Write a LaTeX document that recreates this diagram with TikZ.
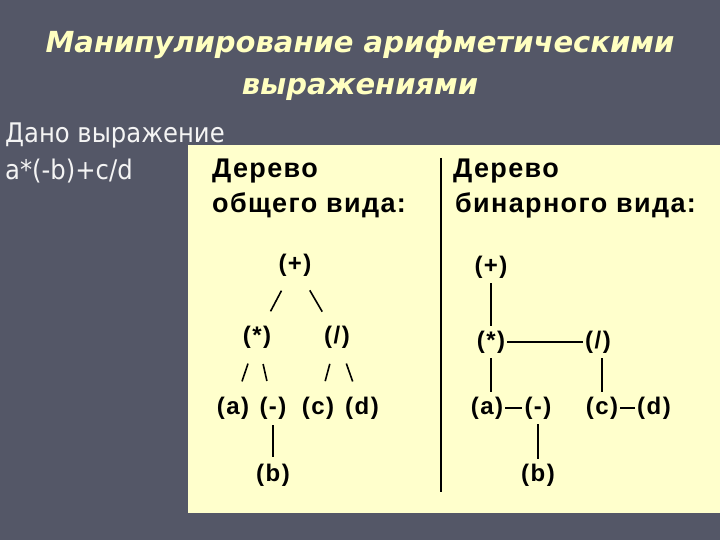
\documentclass[tikz,border=0pt]{standalone}
\usepackage{fontspec}
\setmainfont{Liberation Sans}
\newfontfamily\titlefont{DejaVu Sans}
\newfontfamily\givenfont{DejaVu Sans Condensed}
\newfontfamily\panelfont{Liberation Sans}[LetterSpace=5]
\newfontfamily\treefont{Liberation Sans}[LetterSpace=6]
\definecolor{slidebg}{HTML}{545767}
\definecolor{titleyellow}{HTML}{FFFFC0}
\definecolor{panelyellow}{HTML}{FFFFCC}
\definecolor{giventext}{HTML}{F4F4F4}

\begin{document}
\begin{tikzpicture}[x=1pt, y=-1pt,
	tnode/.style={font=\treefont\fontsize{24}{26}\selectfont\bfseries, inner sep=1pt},
	head/.style={anchor=base west, inner sep=0pt, font=\panelfont\fontsize{27}{29}\selectfont\bfseries},
	slash/.style={line width=1.6pt, shorten <=15pt, shorten >=15pt},
	link/.style={line width=1.6pt, shorten <=4pt, shorten >=4pt}]
	% Fond
	\useasboundingbox (0, 0) rectangle (720, 540);
	\fill[slidebg] (0, 0) rectangle (720, 540);
	% Titre
	\node[anchor=base, text=titleyellow, font=\titlefont\fontsize{29}{32}\selectfont\bfseries\itshape] (title1) at (360, 53) {Манипулирование арифметическими};
	\node[anchor=base, text=titleyellow, font=\titlefont\fontsize{29}{32}\selectfont\bfseries\itshape] (title2) at (360, 95) {выражениями};
	% Expression
	\node[anchor=base west, text=giventext, inner sep=0pt, font=\givenfont\fontsize{27}{29}\selectfont] (given1) at (5, 143) {Дано выражение};
	\node[anchor=base west, text=giventext, inner sep=0pt, font=\givenfont\fontsize{27}{29}\selectfont] (given2) at (5, 180) {a*(-b)+c/d};
	% Panneau
	\fill[panelyellow] (188, 145) rectangle (720, 513);
	\draw[line width=1.5pt] (441, 158) -- (441, 492);
	\node[head] (head1) at (212, 178) {Дерево};
	\node[head] (head2) at (212, 213) {общего вида:};
	\node[head] (head3) at (453, 178) {Дерево};
	\node[head] (head4) at (455, 213) {бинарного вида:};
	% Arbre general
	\node[tnode] (gplus) at (295, 265) {(+)};
	\node[tnode] (gmul) at (257, 337) {(*)};
	\node[tnode] (gdiv) at (337, 337) {(/)};
	\node[tnode] (ga) at (233, 408) {(a)};
	\node[tnode] (gneg) at (273, 408) {(-)};
	\node[tnode] (gc) at (318, 408) {(c)};
	\node[tnode] (gd) at (362, 408) {(d)};
	\node[tnode] (gb) at (273, 475) {(b)};
	\draw[slash] (gplus) -- (gmul);
	\draw[slash] (gplus) -- (gdiv);
	\draw[slash] (gmul) -- (ga);
	\draw[slash] (gmul) -- (gneg);
	\draw[slash] (gdiv) -- (gc);
	\draw[slash] (gdiv) -- (gd);
	\draw[link, shorten <=5pt, shorten >=6pt] (gneg) -- (gb);
	% Arbre binaire
	\node[tnode] (bplus) at (491, 267) {(+)};
	\node[tnode] (bmul) at (491, 342) {(*)};
	\node[tnode] (bdiv) at (598, 342) {(/)};
	\node[tnode] (ba) at (487, 408) {(a)};
	\node[tnode] (bneg) at (538, 408) {(-)};
	\node[tnode] (bc) at (602, 408) {(c)};
	\node[tnode] (bd) at (654, 408) {(d)};
	\node[tnode] (bb) at (538, 475) {(b)};
	\draw[link] (bplus) -- (bmul);
	\draw[link, shorten <=1pt, shorten >=1pt] (bmul) -- (bdiv);
	\draw[link] (bmul.south) -- (ba.north -| bmul.south);
	\draw[link] (bc.north |- bdiv.south) -- (bc.north);
	\draw[link, shorten <=1pt, shorten >=1pt] (ba) -- (bneg);
	\draw[link, shorten <=1pt, shorten >=1pt] (bc) -- (bd);
	\draw[link] (bneg) -- (bb);
\end{tikzpicture}
\end{document}
